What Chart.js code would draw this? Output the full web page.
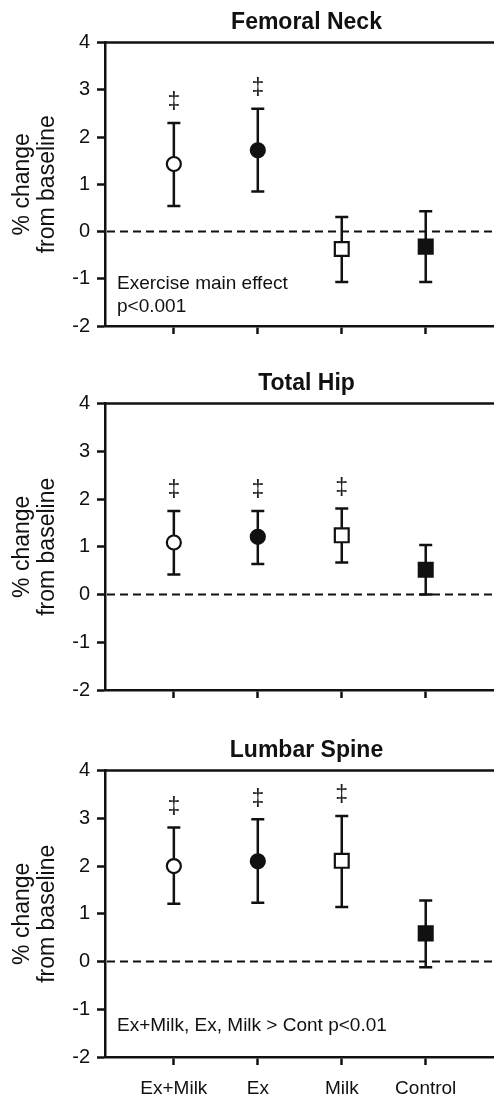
<!DOCTYPE html>
<html>
<head>
<meta charset="utf-8">
<script src="https://cdn.jsdelivr.net/npm/chart.js@4"></script>
<style>
  html, body { margin: 0; padding: 0; overflow: hidden; background: #fff; }
  #wrap { position: relative; width: 494px; height: 1100px; overflow: hidden; background: #fff; }
  #wrap canvas { position: absolute; left: 0; }
</style>
</head>
<body>
<div id="wrap">
  <canvas id="neck" width="520" height="345" style="top:0px"></canvas>
  <canvas id="hip" width="520" height="348" style="top:361px"></canvas>
  <canvas id="spine" width="520" height="372" style="top:728px"></canvas>
</div>
<script>
const categories = ['Ex+Milk', 'Ex', 'Milk', 'Control'];
const yTickValues = [-2, -1, 0, 1, 2, 3, 4];

// femoral neck: mean, top and bottom of error bar
const neckMean = [1.43, 1.72, -0.37, -0.32];
const neckUpper = [2.30, 2.60, 0.31, 0.43];
const neckLower = [0.54, 0.85, -1.07, -1.07];
const neckSig = [true, true, false, false];

const hipMean = [1.09, 1.21, 1.24, 0.52];
const hipUpper = [1.75, 1.75, 1.80, 1.04];
const hipLower = [0.42, 0.64, 0.67, 0.00];
const hipSig = [true, true, true, false];

const spineMean = [2.00, 2.10, 2.11, 0.59];
const spineUpper = [2.81, 2.98, 3.05, 1.28];
const spineLower = [1.21, 1.23, 1.14, -0.12];
const spineSig = [true, true, true, false];

const markerStyles = ['circle', 'circle', 'rect', 'rect'];
const markerFills = ['#fff', '#111', '#fff', '#111'];
const markerSizes = [7, 7, 9.8, 9.8];

const INK = '#111';
const FONT = "'Liberation Sans', Arial, Helvetica, sans-serif";

Chart.defaults.font.family = FONT;
Chart.defaults.color = INK;

function makePlugin(upper, lower, sig, notes) {
    return {
        id: 'errorBars',
        beforeDatasetsDraw(chart) {
            const { ctx, chartArea, scales: { x, y } } = chart;
            ctx.save();
            ctx.strokeStyle = INK;
            // dashed zero line
            ctx.lineWidth = 2;
            ctx.setLineDash([8, 5]);
            const y0 = y.getPixelForValue(0);
            ctx.beginPath();
            ctx.moveTo(chartArea.left + 2, y0);
            ctx.lineTo(chartArea.right, y0);
            ctx.stroke();
            ctx.setLineDash([]);

            ctx.lineWidth = 2.5;
            upper.forEach((hi, i) => {
                const px = x.getPixelForValue(i + 1);
                const top = y.getPixelForValue(hi);
                const bot = y.getPixelForValue(lower[i]);
                ctx.beginPath();
                ctx.moveTo(px, top); ctx.lineTo(px, bot);
                ctx.moveTo(px - 6.5, top); ctx.lineTo(px + 6.5, top);
                ctx.moveTo(px - 6.5, bot); ctx.lineTo(px + 6.5, bot);
                ctx.stroke();
            });
            ctx.restore();
        },
        afterDraw(chart) {
            const { ctx, chartArea, scales: { x, y } } = chart;
            ctx.save();
            // top frame line
            ctx.strokeStyle = INK;
            ctx.lineWidth = 2.5;
            ctx.beginPath();
            ctx.moveTo(chartArea.left, chartArea.top);
            ctx.lineTo(chartArea.right, chartArea.top);
            ctx.stroke();

            ctx.fillStyle = '#222';
            ctx.textAlign = 'center';
            ctx.textBaseline = 'middle';
            ctx.font = '23px ' + FONT;
            sig.forEach((s, i) => {
                if (!s) return;
                ctx.fillText('\u2021', x.getPixelForValue(i + 1), y.getPixelForValue(upper[i]) - 20);
            });

            ctx.fillStyle = INK;
            ctx.textAlign = 'left';
            ctx.font = '19px ' + FONT;
            notes.lines.forEach((t, k) => {
                ctx.fillText(t, chartArea.left + 12, y.getPixelForValue(notes.at) + k * 23);
            });
            ctx.restore();
        }
    };
}

function drawPanel(id, title, mean, upper, lower, sig, notes, showLabels) {
    const ctx = document.getElementById(id).getContext('2d');
    return new Chart(ctx, {
        type: 'scatter',
        data: {
            datasets: [{
                data: mean.map((v, i) => ({ x: i + 1, y: v })),
                pointStyle: markerStyles,
                pointRadius: markerSizes,
                pointBackgroundColor: markerFills,
                pointBorderColor: INK,
                pointBorderWidth: 2.2,
                showLine: false
            }]
        },
        options: {
            responsive: false,
            animation: false,
            events: [],
            layout: { padding: { left: 0, right: 10, top: 0, bottom: 0 } },
            plugins: {
                legend: { display: false },
                tooltip: { enabled: false },
                title: {
                    display: true,
                    text: title,
                    fullSize: false,
                    color: INK,
                    font: { size: 23, weight: 'bold' },
                    padding: { top: 9, bottom: 6 }
                }
            },
            scales: {
                x: {
                    type: 'linear',
                    min: 0.18,
                    max: 4.98,
                    afterBuildTicks: s => { s.ticks = categories.map((c, i) => ({ value: i + 1 })); },
                    afterFit: s => { s.height = showLabels ? 43 : 16; },
                    ticks: {
                        callback: v => showLabels ? categories[v - 1] : '',
                        font: { size: 19 },
                        color: INK,
                        padding: 12,
                        maxRotation: 0,
                        autoSkip: false
                    },
                    grid: { drawOnChartArea: false, drawTicks: true, tickLength: 8, tickWidth: 2.5, tickColor: INK },
                    border: { display: true, width: 2.5, color: INK }
                },
                y: {
                    min: -2,
                    max: 4,
                    afterBuildTicks: s => { s.ticks = yTickValues.map(v => ({ value: v })); },
                    afterFit: s => { s.width = 105; },
                    ticks: { font: { size: 20 }, color: INK, padding: 7 },
                    grid: { drawOnChartArea: false, drawTicks: true, tickLength: 8, tickWidth: 2.5, tickColor: INK },
                    border: { display: true, width: 2.5, color: INK },
                    title: {
                        display: true,
                        text: ['% change', 'from baseline'],
                        color: INK,
                        font: { size: 23, lineHeight: '25px' },
                        padding: { top: 10, bottom: 0 }
                    }
                }
            }
        },
        plugins: [makePlugin(upper, lower, sig, notes)]
    });
}

drawPanel('neck', 'Femoral Neck', neckMean, neckUpper, neckLower, neckSig,
    { at: -1.1, lines: ['Exercise main effect', 'p<0.001'] }, false);
drawPanel('hip', 'Total Hip', hipMean, hipUpper, hipLower, hipSig,
    { at: 0, lines: [] }, false);
drawPanel('spine', 'Lumbar Spine', spineMean, spineUpper, spineLower, spineSig,
    { at: -1.345, lines: ['Ex+Milk, Ex, Milk > Cont p<0.01'] }, true);
</script>
</body>
</html>
